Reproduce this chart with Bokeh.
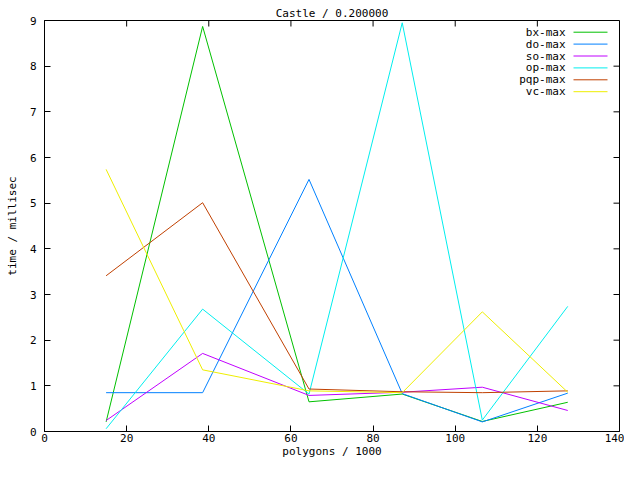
import math
from bokeh.plotting import figure
from bokeh.models import FixedTicker, Range1d, ColumnDataSource
from bokeh.core.properties import value
from bokeh.embed import file_html
from bokeh.resources import INLINE

# ---- data ----
polygons = [15.0, 38.5, 64.4, 87.1, 106.6, 127.4]
bx_max = [0.21, 8.87, 0.65, 0.82, 0.22, 0.64]
do_max = [0.85, 0.85, 5.52, 0.83, 0.21, 0.84]
so_max = [0.24, 1.71, 0.79, 0.86, 0.97, 0.46]
op_max = [0.06, 2.68, 0.82, 8.95, 0.25, 2.74]
pqp_max = [3.41, 5.01, 0.93, 0.87, 0.85, 0.89]
vc_max = [5.74, 1.35, 0.89, 0.85, 2.62, 0.86]

series_names = ["bx-max", "do-max", "so-max", "op-max", "pqp-max", "vc-max"]
series_values = [bx_max, do_max, so_max, op_max, pqp_max, vc_max]
colors = ["#00c000", "#0080ff", "#c000ff", "#00eeee", "#c04000", "#eeee00"]

x_ticks = [0, 20, 40, 60, 80, 100, 120, 140]
y_ticks = [0, 1, 2, 3, 4, 5, 6, 7, 8, 9]
title_text = "Castle / 0.200000"
x_label = "polygons / 1000"
y_label = "time / millisec"

X_MIN, X_MAX = 0, 140
Y_MIN, Y_MAX = 0, 9

FONT = "DejaVu Sans Mono"
FS = "11px"

FRAME_W = 575
FRAME_H = 411
TICK_LEN = 6

p = figure(frame_width=FRAME_W, frame_height=FRAME_H,
           x_range=Range1d(X_MIN, X_MAX), y_range=Range1d(Y_MIN, Y_MAX),
           output_backend="svg", toolbar_location=None,
           min_border_left=44, min_border_right=5,
           min_border_top=20, min_border_bottom=30,
           title=title_text)
p.title.align = "center"
p.title.text_font = FONT
p.title.text_font_size = FS
p.title.text_font_style = "normal"
p.title.text_color = "black"
p.title.standoff = 2
p.title.offset = 0

p.background_fill_color = "white"
p.border_fill_color = "white"
p.outline_line_color = "black"
p.outline_line_width = 1
p.xgrid.visible = False
p.ygrid.visible = False

for ax in (p.xaxis[0], p.yaxis[0]):
    ax.major_tick_in = TICK_LEN
    ax.major_tick_out = 0
    ax.minor_tick_line_color = None
    ax.axis_line_color = "black"
    ax.major_tick_line_color = "black"
    ax.major_label_text_font = FONT
    ax.major_label_text_font_size = FS
    ax.major_label_text_color = "black"
    ax.axis_label_text_font = FONT
    ax.axis_label_text_font_size = FS
    ax.axis_label_text_font_style = "normal"
    ax.axis_label_text_color = "black"

p.xaxis[0].ticker = FixedTicker(ticks=x_ticks)
p.yaxis[0].ticker = FixedTicker(ticks=y_ticks)
p.xaxis[0].axis_label = x_label
p.yaxis[0].axis_label = y_label
p.xaxis[0].major_label_standoff = 2
p.xaxis[0].axis_label_standoff = 0
p.yaxis[0].major_label_standoff = 8
p.yaxis[0].axis_label_standoff = 8

# mirrored inward ticks on the right and top edges
p.ray(x=[X_MAX] * len(y_ticks), y=y_ticks, length=TICK_LEN, length_units="screen",
      angle=math.pi, line_color="black", line_width=1)
p.ray(x=x_ticks, y=[Y_MAX] * len(x_ticks), length=TICK_LEN, length_units="screen",
      angle=-math.pi / 2, line_color="black", line_width=1)

for name, vals, col in zip(series_names, series_values, colors):
    src = ColumnDataSource(dict(x=polygons, y=vals))
    p.line("x", "y", source=src, line_color=col, line_width=1)

# legend (top right, gnuplot style: text then sample line)
px_x = (X_MAX - X_MIN) / FRAME_W
px_y = (Y_MAX - Y_MIN) / FRAME_H
LEG_X_TEXT = X_MAX - 54 * px_x
LEG_X0 = X_MAX - 46 * px_x
LEG_X1 = X_MAX - 12 * px_x
LEG_Y0 = Y_MAX - 11.7 * px_y
LEG_DY = 11.9 * px_y
leg_y = [LEG_Y0 - i * LEG_DY for i in range(len(series_names))]
leg_src = ColumnDataSource(dict(
    tx=[LEG_X_TEXT] * len(series_names), ty=leg_y, text=series_names,
    x0=[LEG_X0] * len(series_names), x1=[LEG_X1] * len(series_names),
    color=colors))
p.text("tx", "ty", text="text", source=leg_src, text_align="right",
       text_baseline="middle", text_font=value(FONT), text_font_size=FS,
       text_color="black")
p.segment("x0", "ty", "x1", "ty", source=leg_src, line_color="color", line_width=1)

open("out.html", "w").write(file_html(p, INLINE))
